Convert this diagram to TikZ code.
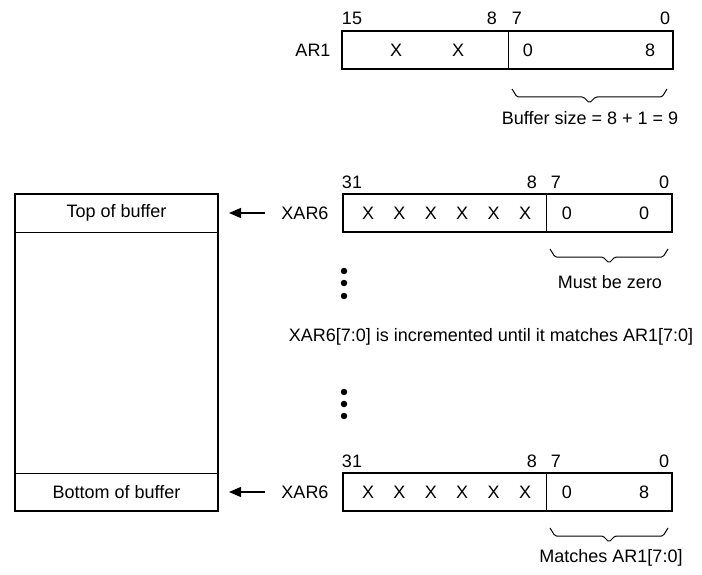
\documentclass[tikz,border=0pt]{standalone}
\usepackage{fontspec}
\setmainfont{Liberation Sans}
\usetikzlibrary{positioning,arrows.meta}

% brace under a field: left x, right x, top y
\newcommand{\fieldbrace}[3]{%
  \draw[brc] (#1,#3) -- (#1+5,#3+8) -- ({(#1+#2)/2-6},#3+8) -- ({(#1+#2)/2},#3+14)
    -- ({(#1+#2)/2+6},#3+8) -- (#2-5,#3+8) -- (#2,#3);}

\begin{document}
\begin{tikzpicture}[
    x=1pt, y=-1pt,
    font=\fontsize{18}{21}\selectfont,
    every node/.style={inner sep=0pt, outer sep=0pt},
    field/.style={draw, line width=1pt, minimum height=38pt, anchor=north west},
    outline/.style={draw, line width=2.2pt},
    ptr/.style={-{Triangle[length=12pt,width=10pt]}, line width=1.2pt, shorten <=16pt, shorten >=11pt},
    brc/.style={line width=1pt, rounded corners=1.5pt},
    dot/.style={circle, fill, minimum size=6.5pt}
]
    \useasboundingbox (0,0) rectangle (702,575);

    % AR1
    \node[field, minimum width=166pt] (ar1hi) at (342,31) {};
    \node[field, minimum width=165pt, right=0pt of ar1hi] (ar1lo) {};
    \draw[outline] (ar1hi.north west) rectangle (ar1lo.south east);
    \node (ar1name) at (313,50) {AR1};
    \node (ar1b15) at (352,18) {15};
    \node (ar1b8)  at (492,18) {8};
    \node (ar1b7)  at (517,18) {7};
    \node (ar1b0)  at (665,18) {0};
    \node (ar1xa) at (396,50) {X};
    \node (ar1xb) at (458,50) {X};
    \node (ar1va) at (528,50) {0};
    \node (ar1vb) at (650,50) {8};
    \fieldbrace{512}{667}{89}
    \node (bufsize) at (590,118) {Buffer size = 8 + 1 = 9};

    % circular buffer
    \node[field, minimum width=203pt] (topcell) at (15,194) {Top of buffer};
    \node[field, minimum width=203pt] (botcell) at (15,473) {Bottom of buffer};
    \draw[outline] (topcell.north west) rectangle (botcell.south east);

    % XAR6 at top of buffer
    \node[field, minimum width=203pt] (xtophi) at (343,194) {};
    \node[field, minimum width=126pt, right=0pt of xtophi] (xtoplo) {};
    \draw[outline] (xtophi.north west) rectangle (xtoplo.south east);
    \node (xtopname) at (305,213) {XAR6};
    \draw[ptr] (xtopname.west) -- (topcell.east);
    \node (xtopb31) at (352,182) {31};
    \node (xtopb8)  at (532,182) {8};
    \node (xtopb7)  at (556,182) {7};
    \node (xtopb0)  at (664,182) {0};
    \foreach \i in {0,...,5}
        \node (xtopx\i) at (368+31.4*\i,213) {X};
    \node (xtopva) at (567,213) {0};
    \node (xtopvb) at (644,213) {0};
    \fieldbrace{550}{668}{249}
    \node (mustzero) at (610,282) {Must be zero};

    % dots and note
    \foreach \y in {271,283,296}
        \node[dot] (dota\y) at (344,\y) {};
    \node (note) at (491,337) {XAR6[7:0] is incremented until it matches AR1[7:0]};
    \foreach \y in {392,404,416}
        \node[dot] (dotb\y) at (344,\y) {};

    % XAR6 at bottom of buffer
    \node[field, minimum width=203pt] (xbothi) at (343,473) {};
    \node[field, minimum width=126pt, right=0pt of xbothi] (xbotlo) {};
    \draw[outline] (xbothi.north west) rectangle (xbotlo.south east);
    \node (xbotname) at (305,492) {XAR6};
    \draw[ptr] (xbotname.west) -- (botcell.east);
    \node (xbotb31) at (352,461) {31};
    \node (xbotb8)  at (532,461) {8};
    \node (xbotb7)  at (556,461) {7};
    \node (xbotb0)  at (664,461) {0};
    \foreach \i in {0,...,5}
        \node (xbotx\i) at (368+31.4*\i,492) {X};
    \node (xbotva) at (567,492) {0};
    \node (xbotvb) at (644,492) {8};
    \fieldbrace{550}{668}{528}
    \node (matches) at (611,558) {Matches AR1[7:0]};
\end{tikzpicture}
\end{document}
